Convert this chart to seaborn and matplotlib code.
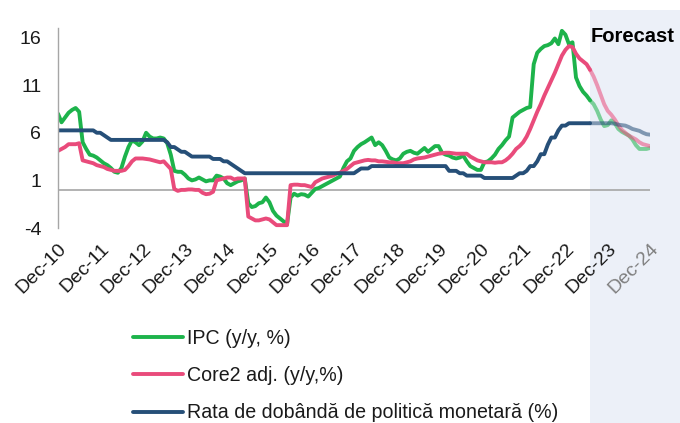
import numpy as np
import pandas as pd
import matplotlib
matplotlib.use("Agg")
import matplotlib.pyplot as plt
import matplotlib.transforms as mtransforms
from matplotlib.patches import Rectangle
import seaborn as sns

# monthly data, Dec-10 .. Dec-24 (one row per calendar year)
year_labels = ["Dec-10", "Dec-11", "Dec-12", "Dec-13", "Dec-14", "Dec-15", "Dec-16",
               "Dec-17", "Dec-18", "Dec-19", "Dec-20", "Dec-21", "Dec-22", "Dec-23", "Dec-24"]
forecast_start = 151  # Jul-23: first forecast month (index from Dec-10)

ipc = [8.0,
       7.1, 7.6, 8.1, 8.4, 8.6, 8.2, 5.0, 4.3, 3.7, 3.6, 3.4, 3.1,
       2.8, 2.6, 2.3, 1.9, 1.8, 2.3, 3.5, 4.5, 5.2, 5.0, 4.7, 5.1,
       6.0, 5.6, 5.4, 5.4, 5.5, 5.4, 4.9, 3.7, 2.0, 1.9, 1.9, 1.6,
       1.2, 1.0, 1.1, 1.3, 1.1, 0.9, 1.0, 1.0, 1.5, 1.4, 1.2, 0.7,
       0.5, 0.7, 0.9, 1.0, 1.2, -1.4, -1.8, -1.7, -1.4, -1.3, -0.8, -1.3,
       -2.2, -2.7, -3.0, -3.3, -3.6, -0.8, -0.4, -0.6, -0.45, -0.5, -0.7, -0.3,
       0.1, 0.2, 0.4, 0.6, 0.8, 1.0, 1.2, 1.4, 2.3, 3.0, 3.3, 4.1,
       4.5, 4.8, 5.0, 5.25, 5.5, 4.7, 5.0, 4.7, 4.1, 3.4, 3.2, 3.1,
       3.3, 3.8, 4.0, 4.1, 3.9, 3.8, 4.1, 4.4, 4.0, 4.3, 4.6, 4.6,
       3.9, 3.7, 3.6, 3.4, 3.3, 3.4, 3.6, 3.0, 2.5, 2.3, 2.1, 2.1,
       2.9, 3.0, 3.3, 3.7, 4.3, 4.7, 5.2, 5.6, 7.6, 7.9, 8.2, 8.4,
       8.6, 8.7, 13.2, 14.4, 14.8, 15.1, 15.2, 15.4, 15.9, 15.3, 16.7, 16.3,
       15.3, 15.5, 11.8, 10.9, 10.3, 9.9, 9.4, 9.0, 8.3, 7.4, 6.7, 6.8,
       7.3, 7.0, 6.4, 6.1, 5.9, 5.7, 5.3, 4.7, 4.3, 4.3, 4.3, 4.4]

core2 = [4.1,
         4.3, 4.5, 4.8, 4.8, 4.8, 4.9, 3.1, 3.0, 2.9, 2.8, 2.6, 2.5,
         2.4, 2.2, 2.1, 2.0, 2.0, 2.0, 2.1, 2.5, 3.0, 3.3, 3.3, 3.3,
         3.25, 3.2, 3.1, 3.0, 2.9, 3.0, 2.6, 2.2, 0.1, -0.1, 0.0, 0.0,
         0.05, 0.05, 0.0, 0.0, -0.3, -0.45, -0.4, -0.2, 1.0, 1.1, 1.2, 1.3,
         1.3, 1.1, 1.2, 1.2, 1.2, -2.8, -3.0, -3.2, -3.2, -3.1, -3.0, -3.1,
         -3.4, -3.7, -3.7, -3.7, -3.7, 0.5, 0.55, 0.55, 0.5, 0.5, 0.4, 0.3,
         0.8, 1.0, 1.2, 1.3, 1.4, 1.5, 1.7, 1.8, 2.0, 2.2, 2.5, 2.8,
         2.9, 3.0, 3.1, 3.15, 3.1, 3.1, 3.0, 3.0, 2.95, 2.9, 2.9, 2.8,
         2.8, 2.8, 2.9, 3.0, 3.2, 3.3, 3.35, 3.4, 3.5, 3.6, 3.7, 3.8,
         3.85, 3.9, 3.9, 3.85, 3.8, 3.8, 3.8, 3.8, 3.5, 3.3, 3.1, 3.0,
         2.9, 2.9, 2.9, 2.85, 2.9, 2.9, 3.1, 3.4, 3.8, 4.3, 4.6, 5.0,
         5.6, 6.4, 7.3, 8.2, 9.0, 9.9, 10.7, 11.5, 12.3, 13.2, 14.1, 14.7,
         15.1, 15.0, 14.3, 13.8, 13.5, 13.2, 12.6, 11.9, 11.0, 10.0, 9.0, 8.3,
         7.9, 7.4, 6.8, 6.3, 6.0, 5.7, 5.5, 5.3, 5.0, 4.8, 4.7, 4.6]

policy_rate = [6.25,
               6.25, 6.25, 6.25, 6.25, 6.25, 6.25, 6.25, 6.25, 6.25, 6.25, 6.0, 6.0,
               5.75, 5.5, 5.25, 5.25, 5.25, 5.25, 5.25, 5.25, 5.25, 5.25, 5.25, 5.25,
               5.25, 5.25, 5.25, 5.25, 5.25, 5.25, 5.0, 4.5, 4.5, 4.25, 4.0, 4.0,
               3.75, 3.5, 3.5, 3.5, 3.5, 3.5, 3.5, 3.25, 3.25, 3.25, 3.0, 3.0,
               2.75, 2.5, 2.25, 2.0, 1.75, 1.75, 1.75, 1.75, 1.75, 1.75, 1.75, 1.75,
               1.75, 1.75, 1.75, 1.75, 1.75, 1.75, 1.75, 1.75, 1.75, 1.75, 1.75, 1.75,
               1.75, 1.75, 1.75, 1.75, 1.75, 1.75, 1.75, 1.75, 1.75, 1.75, 1.75, 1.75,
               2.0, 2.25, 2.25, 2.25, 2.5, 2.5, 2.5, 2.5, 2.5, 2.5, 2.5, 2.5,
               2.5, 2.5, 2.5, 2.5, 2.5, 2.5, 2.5, 2.5, 2.5, 2.5, 2.5, 2.5,
               2.5, 2.5, 2.0, 2.0, 2.0, 1.75, 1.75, 1.5, 1.5, 1.5, 1.5, 1.5,
               1.25, 1.25, 1.25, 1.25, 1.25, 1.25, 1.25, 1.25, 1.25, 1.5, 1.75, 1.75,
               2.0, 2.5, 2.5, 3.0, 3.75, 3.75, 4.75, 5.5, 5.5, 6.25, 6.75, 6.75,
               7.0, 7.0, 7.0, 7.0, 7.0, 7.0, 7.0, 7.0, 7.0, 7.0, 7.0, 7.0,
               7.0, 6.95, 6.85, 6.8, 6.75, 6.6, 6.4, 6.3, 6.2, 6.0, 5.85, 5.8]

series_names = ["IPC (y/y, %)", "Core2 adj. (y/y,%)", "Rata de dobândă de politică monetară (%)"]
series_colors = ["#1DB34B", "#E94B7B", "#264F78"]

sns.set_theme(style="white")
plt.rcParams["font.family"] = ["Liberation Sans", "DejaVu Sans"]
plt.rcParams["axes.unicode_minus"] = False

months = np.arange(len(ipc))
df = pd.DataFrame({"month": months, series_names[0]: ipc,
                   series_names[1]: core2, series_names[2]: policy_rate})
hist = df[df["month"] <= forecast_start]
fcst = df[df["month"] >= forecast_start]

fig = plt.figure(figsize=(6.8, 4.23), dpi=100)
ax = fig.add_axes([58 / 680, 1 - 228 / 423, 592 / 680, 200 / 423])
ax.patch.set_alpha(0)

# forecast band runs over the whole figure height (behind axes)
trans = mtransforms.blended_transform_factory(ax.transData, fig.transFigure)
fig.patches.append(Rectangle((forecast_start, 0), 100, 1 - 10 / 423, transform=trans,
                             facecolor="#ECF0F8", edgecolor="none", zorder=-1))

ax.axhline(0, color="#A6A6A6", lw=1.2, zorder=1)
for name, color in zip(series_names, series_colors):
    sns.lineplot(data=hist, x="month", y=name, color=color, lw=2.8, ax=ax, label=name)
    sns.lineplot(data=fcst, x="month", y=name, color=color, lw=2.8, alpha=0.55, ax=ax)

ax.set_xlim(0, 168)
ax.set_ylim(-4, 17)
ax.set_yticks([-4, 1, 6, 11, 16])
ax.set_xticks(range(0, 169, 12))
ax.set_xticklabels(year_labels, rotation=45, ha="right", rotation_mode="anchor")
ax.tick_params(axis="both", length=0, labelsize=14, labelcolor="#1a1a1a")
ax.tick_params(axis="y", pad=12)
ax.tick_params(axis="x", pad=9)
ax.get_xticklabels()[-1].set_color("#808080")
ax.set_xlabel("")
ax.set_ylabel("")
sns.despine(ax=ax, left=False, bottom=True)
ax.spines["left"].set_color("#A6A6A6")
ax.spines["left"].set_linewidth(1.0)

ax.text(forecast_start + 0.2, 1 - 42 / 423, "Forecast", transform=trans,
        fontsize=14.5, fontweight="bold", color="black", ha="left", va="baseline")

handles, labels = ax.get_legend_handles_labels()
ax.get_legend().remove()
leg = fig.legend(handles, labels, loc="upper left", bbox_to_anchor=(133 / 680, 1 - 329 / 423),
                 frameon=False, fontsize=14.1, handlelength=2.55, handletextpad=0.2,
                 labelspacing=0.93, borderpad=0, borderaxespad=0)
for t in leg.get_texts():
    t.set_color("#1a1a1a")

fig.savefig("out.png", dpi=100)
